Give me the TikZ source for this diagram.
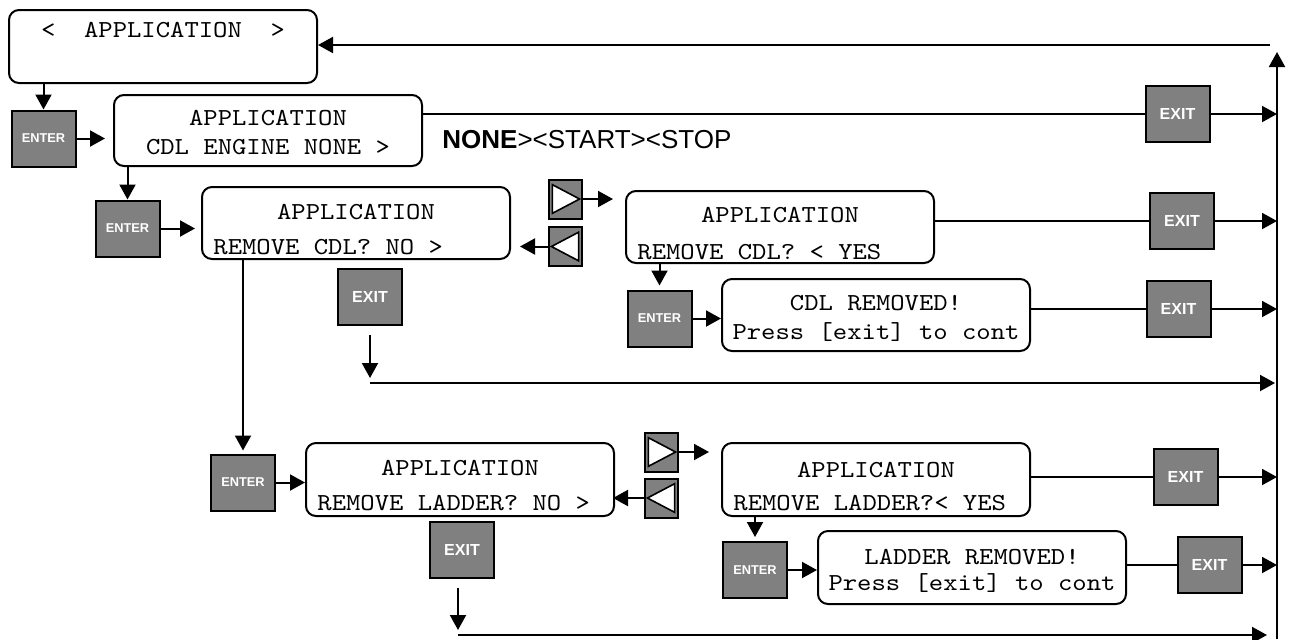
\documentclass[tikz,border=0pt]{standalone}
\usepackage{fontspec}
\setmainfont{Liberation Sans}
\newfontfamily\lcdfont{lmmono10-regular.otf}[FakeStretch=1.12]
\usetikzlibrary{arrows.meta,positioning,calc}
\definecolor{keygray}{HTML}{808080}
\tikzset{
  lcd/.style={draw,rounded corners=5pt,line width=1pt,anchor=north west,minimum width=154pt,minimum height=36pt,inner sep=0pt},
  ltxt/.style={font=\lcdfont\fontsize{12.2}{14}\selectfont,inner sep=0pt},
  key/.style={draw,fill=keygray,line width=1pt,minimum width=32pt,minimum height=28pt,inner sep=0pt,text=white,font=\bfseries\fontsize{8}{9}\selectfont},
  enterkey/.style={key,font=\bfseries\fontsize{6.4}{7}\selectfont},
  arrowkey/.style={draw,fill=keygray,line width=1pt,minimum width=16.5pt,minimum height=19.5pt,inner sep=0pt},
  rkey/.style={arrowkey,path picture={\draw[fill=white,line width=0.8pt]
      ([shift={(1.7pt,-2.6pt)}]path picture bounding box.north west) --
      ([shift={(-1.2pt,0pt)}]path picture bounding box.east) --
      ([shift={(1.7pt,2.6pt)}]path picture bounding box.south west) -- cycle;}},
  lkey/.style={arrowkey,path picture={\draw[fill=white,line width=0.8pt]
      ([shift={(-1.7pt,-2.6pt)}]path picture bounding box.north east) --
      ([shift={(1.2pt,0pt)}]path picture bounding box.west) --
      ([shift={(-1.7pt,2.6pt)}]path picture bounding box.south east) -- cycle;}},
  arr/.style={-{Triangle[length=7.5pt,width=8pt]},line width=1pt},
  ln/.style={line width=1pt},
}
\begin{document}
\begin{tikzpicture}[x=0.5pt,y=-0.5pt]
  \useasboundingbox (0,0) rectangle (1290,639);
  % return bus on the right
  \coordinate (busB) at (1277,639);
  \coordinate (busT) at (1277,52);
  \draw[arr] (busB) -- (busT);

  % top level menu
  \node[lcd,minimum height=36.5pt] (top) at (8,9) {};
  \node[ltxt,anchor=base] (topt) at ($(top.north)+(0,28)$) {<\ \ APPLICATION\ \ >};
  \coordinate (back) at (1270,45);
  \draw[arr] (back) -- (back -| top.east);

  % engine selection
  \node[enterkey] (en1) at (43.5,138.5) {ENTER};
  \draw[arr] (en1.north |- top.south) -- (en1.north);
  \node[lcd,minimum height=35.5pt] (eng) at (113,94) {};
  \node[ltxt,anchor=base] (engt) at ($(eng.north)+(0,31)$) {APPLICATION};
  \node[ltxt,anchor=base] (engm) at ($(eng.north)+(0,60)$) {CDL ENGINE NONE >};
  \draw[arr,shorten >=4pt] (en1.east) -- (en1.east -| eng.west);
  \node[anchor=base west,inner sep=0pt,font=\fontsize{13}{15}\selectfont] (opts) at (442,148) {\textbf{NONE}><START><STOP};
  \node[key] (ex1) at (1177.5,114) {EXIT};
  \draw[ln] (eng.east |- ex1) -- (ex1.west);
  \draw[arr] (ex1.east) -- (ex1.east -| busB);

  % remove CDL
  \node[enterkey] (en2) at (127.5,228.5) {ENTER};
  \draw[arr] (en2.north |- eng.south) -- (en2.north);
  \node[lcd] (cdl) at (201,186) {};
  \node[ltxt,anchor=base] (cdlt) at ($(cdl.north)+(0,33)$) {APPLICATION};
  \node[ltxt,anchor=base west] (cdlm) at ($(cdl.north west)+(12,68)$) {REMOVE CDL? NO >};
  \draw[arr,shorten >=3pt] (en2.east) -- (en2.east -| cdl.west);
  \node[rkey] (r1) at (565.5,199) {};
  \node[lkey] (l1) at (565.5,246.5) {};
  \node[lcd] (cdly) at (625,190) {};
  \node[ltxt,anchor=base] (cdlyt) at ($(cdly.north)+(0,32)$) {APPLICATION};
  \node[ltxt,anchor=base west] (cdlym) at ($(cdly.north west)+(12,69)$) {REMOVE CDL? < YES};
  \draw[arr,shorten >=6pt] (r1.east) -- (r1.east -| cdly.west);
  \draw[arr,shorten >=4.5pt] (l1.west) -- (l1.west -| cdl.east);
  \node[key] (ex2) at (1182,221) {EXIT};
  \draw[ln] (cdly.east |- ex2) -- (ex2.west);
  \draw[arr] (ex2.east) -- (ex2.east -| busB);
  \node[enterkey] (en3) at (659.5,318.5) {ENTER};
  \draw[arr,shorten >=2pt] (en3.north |- cdly.south) -- (en3.north);
  \node[lcd] (cdlr) at (721,278) {};
  \node[ltxt,anchor=base] (cdlrt) at ($(cdlr.north)+(0,32)$) {CDL REMOVED!};
  \node[ltxt,anchor=base] (cdlrm) at ($(cdlr.north)+(0,61)$) {Press [exit] to cont};
  \draw[arr] (en3.east) -- (en3.east -| cdlr.west);
  \node[key] (ex3) at (1178.5,309) {EXIT};
  \draw[ln] (cdlr.east |- ex3) -- (ex3.west);
  \draw[arr] (ex3.east) -- (ex3.east -| busB);
  \node[key] (exA) at (370,297) {EXIT};
  \coordinate (cdlBack) at (370,383);
  \draw[arr] ([yshift=-4.5pt]exA.south) -- ([yshift=2.5pt]cdlBack);
  \draw[arr,shorten >=1pt] (cdlBack) -- (cdlBack -| busB);

  % remove ladder
  \node[enterkey] (en4) at (243,482.5) {ENTER};
  \draw[arr,shorten >=1.5pt] (en4.north |- cdl.south) -- (en4.north);
  \node[lcd,minimum height=36.5pt] (lad) at (305,442) {};
  \node[ltxt,anchor=base] (ladt) at ($(lad.north)+(0,33)$) {APPLICATION};
  \node[ltxt,anchor=base west] (ladm) at ($(lad.north west)+(12,68)$) {REMOVE LADDER? NO >};
  \draw[arr] (en4.east) -- (en4.east -| lad.west);
  \node[rkey] (r2) at (661.5,452) {};
  \node[lkey] (l2) at (661.5,498) {};
  \node[lcd,minimum height=36.5pt] (lady) at (721,442) {};
  \node[ltxt,anchor=base] (ladyt) at ($(lady.north)+(0,35)$) {APPLICATION};
  \node[ltxt,anchor=base west] (ladym) at ($(lady.north west)+(12,68)$) {REMOVE LADDER?< YES};
  \draw[arr,shorten >=6pt] (r2.east) -- (r2.east -| lady.west);
  \draw[arr,shorten >=-1pt] (l2.west) -- (l2.west -| lad.east);
  \node[key] (ex4) at (1185.5,477) {EXIT};
  \draw[ln] (lady.east |- ex4) -- (ex4.west);
  \draw[arr] (ex4.east) -- (ex4.east -| busB);
  \node[enterkey] (en5) at (755,570) {ENTER};
  \draw[arr,shorten >=2pt] (en5.north |- lady.south) -- (en5.north);
  \node[lcd,minimum height=36.5pt] (ladr) at (817,530) {};
  \node[ltxt,anchor=base] (ladrt) at ($(ladr.north)+(0,34)$) {LADDER REMOVED!};
  \node[ltxt,anchor=base] (ladrm) at ($(ladr.north)+(0,60)$) {Press [exit] to cont};
  \draw[arr] (en5.east) -- (en5.east -| ladr.west);
  \node[key] (ex5) at (1209.5,565) {EXIT};
  \draw[ln] (ladr.east |- ex5) -- (ex5.west);
  \draw[arr] (ex5.east) -- (ex5.east -| busB);
  \node[key] (exB) at (462,549.5) {EXIT};
  \coordinate (ladBack) at (458,635);
  \draw[arr] ([yshift=-4.5pt]exB.south -| ladBack) -- ([yshift=2.5pt]ladBack);
  \draw[arr,shorten >=5pt] (ladBack) -- (ladBack -| busB);
\end{tikzpicture}
\end{document}
